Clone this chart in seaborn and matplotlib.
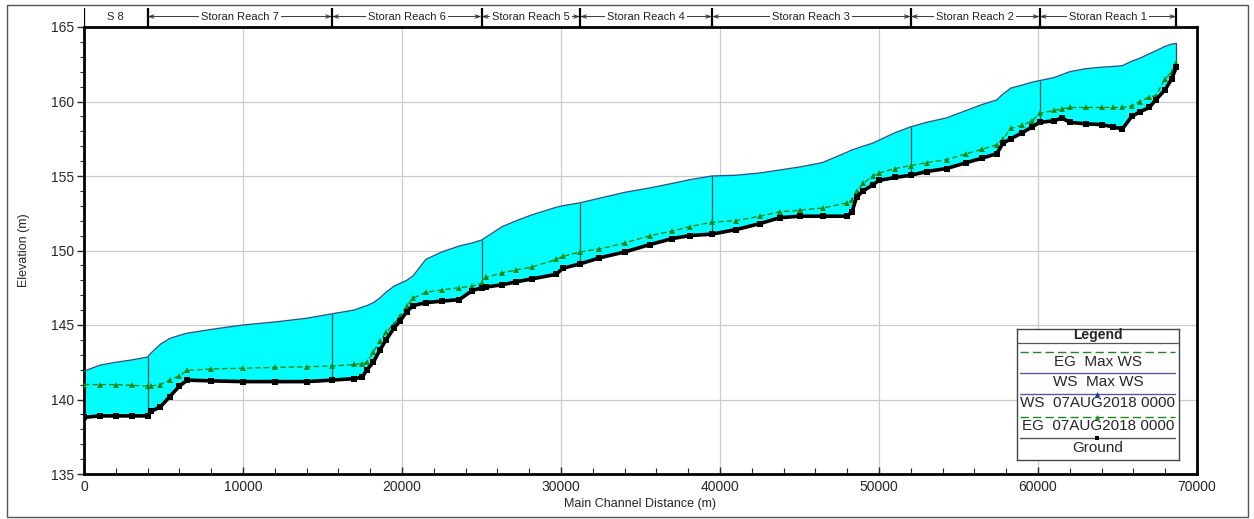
import numpy as np
import pandas as pd
import matplotlib
matplotlib.use("Agg")
import matplotlib.pyplot as plt
from matplotlib.patches import Rectangle
import seaborn as sns

# ------------------------------
# Data
# ------------------------------
station = [0, 1000, 2000, 3000, 4000, 4200, 4800, 5400, 6000, 6500,
           8000, 10000, 12000, 14000, 15600, 17000, 17500, 17800, 18200, 18600,
           19000, 19500, 19900, 20300, 20700, 21500, 22500, 23600, 24400, 25000,
           25300, 26300, 27200, 28200, 29700, 30100, 31200, 32400, 34000, 35600,
           37000, 38100, 39500, 41000, 42500, 43750, 45000, 46450, 48000, 48300,
           48600, 49000, 49600, 50000, 51000, 52000, 53000, 54250, 55500, 56500,
           57400, 57800, 58300, 59000, 59650, 60100, 61000, 61500, 62000, 63000,
           64000, 64700, 65300, 65900, 66400, 67000, 67400, 68000, 68400, 68700]

ground = [138.8, 138.9, 138.9, 138.9, 138.9, 139.2, 139.5, 140.2, 140.9, 141.3,
          141.25, 141.2, 141.2, 141.2, 141.3, 141.4, 141.5, 142.0, 142.5, 143.3,
          144.0, 144.8, 145.3, 145.9, 146.3, 146.5, 146.6, 146.7, 147.3, 147.5,
          147.55, 147.7, 147.9, 148.1, 148.4, 148.8, 149.1, 149.5, 149.9, 150.4,
          150.8, 151.0, 151.1, 151.4, 151.8, 152.2, 152.3, 152.3, 152.3, 152.6,
          153.6, 154.0, 154.4, 154.7, 154.9, 155.05, 155.3, 155.5, 155.9, 156.2,
          156.5, 157.2, 157.5, 157.9, 158.3, 158.6, 158.7, 158.9, 158.6, 158.5,
          158.45, 158.3, 158.15, 159.0, 159.3, 159.6, 160.1, 160.8, 161.5, 162.3]

eg_07aug = [141.0, 141.0, 141.0, 140.95, 140.9, 140.9, 141.0, 141.3, 141.6, 141.95,
            142.05, 142.1, 142.15, 142.2, 142.25, 142.35, 142.4, 142.5, 143.2, 143.9,
            144.5, 145.1, 145.6, 146.3, 146.8, 147.2, 147.35, 147.5, 147.6, 147.8,
            148.2, 148.5, 148.7, 148.9, 149.4, 149.6, 149.9, 150.1, 150.5, 151.0,
            151.3, 151.6, 151.9, 152.0, 152.3, 152.6, 152.7, 152.85, 153.2, 153.4,
            154.0, 154.5, 155.0, 155.2, 155.5, 155.7, 155.9, 156.1, 156.5, 156.8,
            157.1, 157.5, 158.2, 158.4, 158.7, 159.2, 159.4, 159.5, 159.6, 159.6,
            159.6, 159.6, 159.6, 159.7, 160.0, 160.3, 160.4, 161.5, 162.0, 162.6]

ws_max = [141.9, 142.3, 142.5, 142.65, 142.85, 143.1, 143.7, 144.1, 144.3, 144.45,
          144.7, 145.0, 145.2, 145.45, 145.75, 146.0, 146.2, 146.3, 146.5, 146.8,
          147.2, 147.6, 147.8, 148.0, 148.3, 149.4, 149.9, 150.3, 150.5, 150.7,
          150.9, 151.6, 152.0, 152.4, 152.9, 153.0, 153.2, 153.5, 153.9, 154.2,
          154.5, 154.75, 155.0, 155.05, 155.2, 155.4, 155.6, 155.9, 156.6, 156.75,
          156.85, 157.0, 157.2, 157.4, 157.9, 158.3, 158.6, 158.9, 159.4, 159.8,
          160.1, 160.5, 160.9, 161.1, 161.3, 161.4, 161.6, 161.8, 162.0, 162.2,
          162.3, 162.35, 162.4, 162.7, 162.9, 163.2, 163.4, 163.7, 163.85, 163.9]

reach_bounds = [0, 4000, 15600, 25000, 31200, 39500, 52000, 60100, 68700]
reach_names = ["S 8", "Storan Reach 7", "Storan Reach 6", "Storan Reach 5",
               "Storan Reach 4", "Storan Reach 3", "Storan Reach 2", "Storan Reach 1"]

legend_labels = ["EG  Max WS", "WS  Max WS", "WS  07AUG2018 0000",
                 "EG  07AUG2018 0000", "Ground"]

df = pd.DataFrame({"station": station, "ground": ground,
                   "eg": eg_07aug, "ws": ws_max})

# ------------------------------
# Style
# ------------------------------
sns.set_style("white")
plt.rcParams['font.family'] = ['Liberation Sans', 'DejaVu Sans']

W, H = 1254, 519
fig = plt.figure(figsize=(W / 100, H / 100), dpi=100)

# outer frame of the exported picture
fig.patches.append(Rectangle((7 / W, 2 / H), 1241 / W, 512 / H, transform=fig.transFigure,
                             fill=False, edgecolor="#555555", linewidth=1.0))

ax = fig.add_axes([84 / W, (H - 474) / H, (1197 - 84) / W, (474 - 27) / H])

# ------------------------------
# Profile
# ------------------------------
ax.fill_between(df["station"], df["ground"], df["ws"], color="#00FFFF", zorder=2, linewidth=0)

sns.lineplot(data=df, x="station", y="ws", ax=ax, color="#1d5c8c", linewidth=1.0,
             zorder=3, sort=False)
sns.lineplot(data=df, x="station", y="eg", ax=ax, color="#1a8a1a", linewidth=1.0,
             linestyle=(0, (4, 2)), marker="^", markersize=4, markeredgewidth=0,
             zorder=4, sort=False)
sns.lineplot(data=df, x="station", y="ground", ax=ax, color="black", linewidth=2.6,
             marker="s", markersize=4.5, markeredgewidth=0, zorder=5, sort=False)

# reach boundary lines inside the water area
xb = np.array(reach_bounds[1:])
ax.vlines(xb, np.interp(xb, station, ground), np.interp(xb, station, ws_max),
          color="#2f4f4f", linewidth=0.9, zorder=3)

ax.set_xlim(0, 70000)
ax.set_ylim(135, 165)
ax.set_xticks(np.arange(0, 70001, 10000))
ax.set_xticks(np.arange(0, 70001, 2000), minor=True)
ax.set_yticks(np.arange(135, 166, 5))
ax.set_yticks(np.arange(135, 166, 1), minor=True)
ax.grid(True, which="major", color="#cccccc", linewidth=0.9, zorder=0)
ax.set_axisbelow(True)

for s in ax.spines.values():
    s.set_color("black")
    s.set_linewidth(2)

ax.tick_params(axis="y", which="both", direction="out", left=True, labelsize=10, pad=2)
ax.tick_params(axis="y", which="major", length=5, width=1)
ax.tick_params(axis="y", which="minor", length=3, width=0.8)
ax.tick_params(axis="x", which="both", direction="in", bottom=True, labelsize=10, pad=4)
ax.tick_params(axis="x", which="major", length=5, width=1)
ax.tick_params(axis="x", which="minor", length=4, width=0.8)

ax.set_xlabel("Main Channel Distance (m)", fontsize=9, labelpad=3)
ax.set_ylabel("Elevation (m)", fontsize=9, labelpad=15)

# ------------------------------
# Reach band on top
# ------------------------------
band = fig.add_axes([84 / W, (H - 27) / H, (1197 - 84) / W, 19 / H])
band.set_xlim(0, 70000)
band.set_ylim(0, 1)
band.axis("off")
band.vlines(reach_bounds, 0, 1, color="black", linewidth=1.6)
for i, name in enumerate(reach_names):
    x0, x1 = reach_bounds[i], reach_bounds[i + 1]
    if i > 0:
        band.annotate("", xy=(x0, 0.55), xytext=(x1, 0.55),
                      arrowprops=dict(arrowstyle="<->,head_length=0.35,head_width=0.12",
                                      color="#333333", lw=0.7, shrinkA=0, shrinkB=0))
    band.text((x0 + x1) / 2, 0.55, name, ha="center", va="center", fontsize=8,
              color="#222222",
              bbox=dict(facecolor="white", edgecolor="none", pad=1.5))

# ------------------------------
# Legend box (HEC-RAS style)
# ------------------------------
lg = fig.add_axes([1017 / W, (H - 460) / H, (1179 - 1017) / W, (460 - 329) / H])
lg.set_xlim(0, 162)
lg.set_ylim(131, 0)
lg.set_xticks([])
lg.set_yticks([])
for s in lg.spines.values():
    s.set_color("#444444")
    s.set_linewidth(1.0)
lg.text(81, 6.5, "Legend", ha="center", va="center", fontsize=10, fontweight="bold")
lg.plot([0, 162], [14, 14], color="#555555", linewidth=0.9)

samples = [
    dict(y=23, color="#1a8a1a", ls=(0, (6, 3)), marker=None),
    dict(y=44, color="#5a5a9a", ls="-", marker=None),
    dict(y=65, color="#5a5a9a", ls="-", marker="^"),
    dict(y=88, color="#1a8a1a", ls=(0, (6, 3)), marker="^"),
    dict(y=109, color="#555555", ls="-", marker="s"),
]
text_y = [33, 53, 74, 97, 119]
for smp, ty, lab in zip(samples, text_y, legend_labels):
    lg.plot([3, 158], [smp["y"], smp["y"]], color=smp["color"], linestyle=smp["ls"],
            linewidth=1.0)
    if smp["marker"]:
        mc = "black" if smp["marker"] == "s" else ("#1a8a1a" if smp["color"] == "#1a8a1a" else "#2233aa")
        lg.plot([80], [smp["y"]], marker=smp["marker"], color=mc, markersize=3.5,
                markeredgewidth=0)
    lg.text(81, ty, lab, ha="center", va="center", fontsize=11)

fig.savefig("out.png", dpi=100)
